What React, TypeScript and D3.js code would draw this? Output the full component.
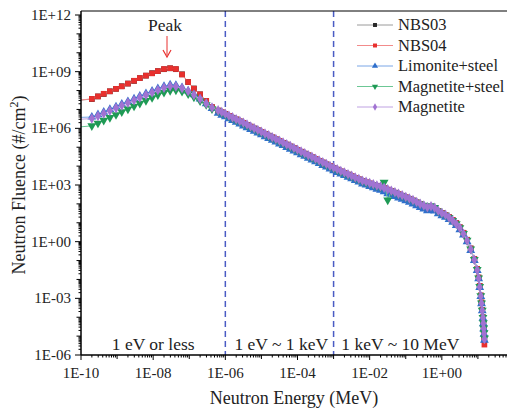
import React from "react";
import * as d3 from "d3";

// ---------- data (log10 values) ----------
const energyExp = [
  -10.5, -9.7, -9.53, -9.37, -9.2, -9.03, -8.87, -8.7, -8.53, -8.37, -8.2, -8.03, -7.87, -7.7, -7.53, -7.37, -7.2, -7.03, -6.87, -6.7, -6.53, -6.37,
  -6.2, -6.1, -6.0, -5.9, -5.8, -5.7, -5.6, -5.5, -5.4, -5.3, -5.2, -5.1, -5.0, -4.9, -4.8, -4.7, -4.6, -4.5, -4.4, -4.3, -4.2, -4.1, -4.0,
  -3.9, -3.8, -3.7, -3.6, -3.5, -3.4, -3.3, -3.2, -3.1, -3.0, -2.9, -2.8, -2.7, -2.6, -2.5, -2.4, -2.3, -2.2, -2.1, -2.0,
  -1.9, -1.8, -1.7, -1.6, -1.5, -1.4, -1.3, -1.2, -1.1, -1.0, -0.9, -0.8, -0.7, -0.6, -0.5, -0.4, -0.3, -0.2, -0.1, 0.0,
  0.1, 0.2, 0.3, 0.4, 0.5, 0.6, 0.7, 0.8, 0.9, 0.98,
  1.02, 1.05, 1.08, 1.1, 1.12, 1.14, 1.15, 1.16, 1.17, 1.18,
];

const nbs04Exp = [
  7.4, 7.56, 7.69, 7.83, 7.96, 8.09, 8.22, 8.37, 8.52, 8.66, 8.79, 8.91, 9.03, 9.14, 9.18, 9.14, 8.85, 8.45, 8.1, 7.8, 7.45, 7.12,
  6.94, 6.85, 6.75, 6.66, 6.56, 6.47, 6.37, 6.28, 6.18, 6.09, 5.99, 5.9, 5.8, 5.71, 5.61, 5.52, 5.42, 5.33, 5.23, 5.14, 5.04, 4.95, 4.85,
  4.76, 4.66, 4.57, 4.47, 4.38, 4.28, 4.19, 4.09, 4.0, 3.9, 3.81, 3.72, 3.64, 3.55, 3.47, 3.38, 3.3, 3.21, 3.14, 3.08,
  3.01, 2.95, 2.89, 2.83, 2.75, 2.67, 2.59, 2.51, 2.43, 2.35, 2.27, 2.18, 2.08, 1.98, 1.89, 1.8, 1.85, 1.78, 1.63, 1.52,
  1.42, 1.3, 1.15, 0.98, 0.76, 0.47, 0.1, -0.36, -0.92, -1.45,
  -1.9, -2.35, -2.85, -3.22, -3.62, -4.02, -4.35, -4.7, -5.05, -5.45,
];

const nbs03Exp = [
  7.4, 7.55, 7.69, 7.82, 7.96, 8.09, 8.23, 8.37, 8.51, 8.66, 8.79, 8.92, 9.03, 9.13, 9.18, 9.13, 8.86, 8.45, 8.11, 7.8, 7.45, 7.12,
  6.94, 6.85, 6.76, 6.66, 6.56, 6.47, 6.37, 6.28, 6.18, 6.09, 5.99, 5.9, 5.8, 5.71, 5.61, 5.52, 5.42, 5.33, 5.23, 5.14, 5.04, 4.95, 4.85,
  4.76, 4.66, 4.57, 4.47, 4.38, 4.28, 4.19, 4.09, 4.0, 3.9, 3.81, 3.72, 3.63, 3.55, 3.47, 3.38, 3.3, 3.21, 3.14, 3.08,
  3.01, 2.95, 2.89, 2.83, 2.75, 2.67, 2.59, 2.51, 2.43, 2.35, 2.27, 2.18, 2.08, 1.98, 1.89, 1.8, 1.85, 1.78, 1.63, 1.52,
  1.42, 1.3, 1.15, 0.98, 0.76, 0.47, 0.1, -0.36, -0.92, -1.45,
  -1.9, -2.35, -2.85, -3.22, -3.62, -4.0, -4.3, -4.6, -4.85, -5.2,
];

const limoniteSteelExp = [
  6.55, 6.6, 6.72, 6.86, 7.0, 7.14, 7.28, 7.42, 7.56, 7.7, 7.84, 7.97, 8.1, 8.22, 8.3, 8.28, 8.16, 7.98, 7.78, 7.56, 7.3, 7.05,
  6.8, 6.7, 6.61, 6.51, 6.42, 6.32, 6.23, 6.13, 6.04, 5.94, 5.85, 5.75, 5.66, 5.56, 5.47, 5.37, 5.28, 5.18, 5.09, 4.99, 4.9, 4.8, 4.71,
  4.61, 4.52, 4.42, 4.33, 4.23, 4.14, 4.04, 3.95, 3.85, 3.76, 3.67, 3.58, 3.5, 3.41, 3.33, 3.24, 3.16, 3.06, 3.0, 2.93,
  2.86, 2.78, 2.72, 2.64, 2.54, 2.48, 2.4, 2.32, 2.25, 2.17, 2.09, 2.0, 1.91, 1.81, 1.73, 1.64, 1.7, 1.62, 1.48, 1.38,
  1.29, 1.17, 1.03, 0.86, 0.64, 0.36, 0.0, -0.46, -1.0, -1.52,
  -1.96, -2.42, -2.9, -3.28, -3.66, -4.05, -4.34, -4.62, -4.9, -5.22,
];

const magnetiteSteelExp = [
  6.0, 6.13, 6.27, 6.42, 6.57, 6.72, 6.87, 7.02, 7.17, 7.32, 7.47, 7.62, 7.77, 7.9, 8.0, 8.02, 7.95, 7.82, 7.65, 7.45, 7.25, 7.03,
  6.91, 6.82, 6.73, 6.63, 6.54, 6.44, 6.35, 6.25, 6.16, 6.06, 5.97, 5.87, 5.78, 5.68, 5.59, 5.49, 5.4, 5.3, 5.21, 5.11, 5.02, 4.92, 4.83,
  4.73, 4.64, 4.54, 4.45, 4.35, 4.26, 4.16, 4.07, 3.97, 3.88, 3.79, 3.7, 3.62, 3.53, 3.45, 3.36, 3.28, 3.19, 3.13, 3.07,
  3.01, 2.94, 2.89, 3.14, 2.2, 2.66, 2.59, 2.5, 2.43, 2.34, 2.26, 2.17, 2.09, 1.99, 1.92, 1.82, 1.9, 1.8, 1.62, 1.5,
  1.4, 1.27, 1.12, 0.95, 0.73, 0.43, 0.07, -0.39, -0.95, -1.48,
  -1.92, -2.38, -2.87, -3.25, -3.64, -4.02, -4.3, -4.58, -4.82, -5.1,
];

const magnetiteExp = [
  6.42, 6.52, 6.65, 6.79, 6.93, 7.07, 7.21, 7.35, 7.49, 7.63, 7.77, 7.9, 8.03, 8.15, 8.23, 8.22, 8.12, 7.96, 7.76, 7.55, 7.32, 7.1,
  6.95, 6.86, 6.77, 6.67, 6.58, 6.48, 6.39, 6.29, 6.2, 6.1, 6.01, 5.91, 5.82, 5.72, 5.63, 5.53, 5.44, 5.34, 5.25, 5.15, 5.06, 4.96, 4.87,
  4.77, 4.68, 4.58, 4.49, 4.39, 4.3, 4.2, 4.11, 4.01, 3.92, 3.83, 3.74, 3.66, 3.57, 3.49, 3.4, 3.32, 3.23, 3.17, 3.1,
  3.04, 2.97, 2.92, 2.85, 2.77, 2.69, 2.62, 2.53, 2.46, 2.37, 2.29, 2.2, 2.1, 2.0, 1.92, 1.82, 1.88, 1.8, 1.64, 1.52,
  1.42, 1.28, 1.12, 0.94, 0.72, 0.42, 0.06, -0.4, -0.96, -1.5,
  -1.94, -2.4, -2.88, -3.26, -3.65, -4.03, -4.32, -4.6, -4.86, -5.15,
];

const seriesNames = ["NBS03", "NBS04", "Limonite+steel", "Magnetite+steel", "Magnetite"];
const seriesData = [nbs03Exp, nbs04Exp, limoniteSteelExp, magnetiteSteelExp, magnetiteExp];
const markerColors = ["#2a2a2a", "#e8302e", "#2f6fcc", "#1f9a55", "#a173d2"];
const lineColors = ["#9a9a9a", "#f28b8b", "#7aa6e6", "#6cc795", "#bfa2e2"];
const markerShapes = ["square", "square", "triangle", "triangleDown", "diamond"];

const xLabelExps = [-10, -8, -6, -4, -2, 0];
const yLabelExps = [12, 9, 6, 3, 0, -3, -6];
const dividerEnergies = [1e-6, 1e-3];
const regionLabels = [
  { text: "1 eV or less", e: 10 ** -8.0 },
  { text: "1 eV ~ 1 keV", e: 10 ** -4.45 },
  { text: "1 keV ~ 10 MeV", e: 10 ** -1.15 },
];

const W = 507;
const H = 410;
const L = 81;
const T = 11;
const B = 355;
const SERIF = "Liberation Serif";

const fmtExp = (e: number) => "1E" + (e < 0 ? "-" : "+") + String(Math.abs(e)).padStart(2, "0");

function symbolPath(shape: string) {
  if (shape === "square") return d3.symbol(d3.symbolSquare, 32)()!;
  if (shape === "triangle") return d3.symbol(d3.symbolTriangle, 34)()!;
  if (shape === "triangleDown") return d3.symbol(d3.symbolTriangle, 34)()!;
  return d3.symbol(d3.symbolDiamond, 32)()!;
}

function T_(props: any) {
  const { children, ...rest } = props;
  return (
    <text fontFamily={SERIF} fill="#222" style={{ fontFamily: `"${SERIF}"` }} {...rest}>
      {children}
    </text>
  );
}

export default function App() {
  const x = d3.scaleLog().domain([1e-10, 1e2]).range([L, 514]);
  const y = d3.scaleLog().domain([1e-6, 1e12]).range([B, 15]);

  const line = d3
    .line<[number, number]>()
    .x((d) => x(d[0]))
    .y((d) => y(d[1]));

  const series = seriesData.map((arr) => arr.map((v, i) => [10 ** energyExp[i], 10 ** v] as [number, number]));

  const xTicks: { v: number; kind: number }[] = [];
  for (let e = -10; e <= 2; e++) {
    xTicks.push({ v: 10 ** e, kind: e % 2 === 0 ? 2 : 1 });
    if (e < 2) for (let m = 2; m <= 9; m++) xTicks.push({ v: m * 10 ** e, kind: 0 });
  }
  const yTicks: { v: number; kind: number }[] = [];
  for (let e = -6; e <= 12; e++) {
    yTicks.push({ v: 10 ** e, kind: e % 3 === 0 ? 2 : 1 });
    if (e < 12) for (let m = 2; m <= 9; m++) yTicks.push({ v: m * 10 ** e, kind: 0 });
  }

  const legendY = [25, 45.5, 66, 86.5, 107];

  return (
    <svg
      width={W}
      height={H}
      fontFamily={SERIF}
      style={{ position: "absolute", left: 0, top: 0, fontFamily: `"${SERIF}"` }}
    >
      <defs>
        <clipPath id="plot">
          <rect x={L} y={T} width={W - L} height={B - T + 2} />
        </clipPath>
      </defs>
      <rect x={0} y={0} width={W} height={H} fill="#fff" />

      {dividerEnergies.map((e, i) => (
        <line key={i} x1={x(e)} x2={x(e)} y1={T} y2={B} stroke="#4a5cc4" strokeWidth={1.5} strokeDasharray="6,4" />
      ))}

      {regionLabels.map((r, i) => (
        <T_ key={i} x={x(r.e)} y={350} textAnchor="middle" fontSize={17.5}>
          {r.text}
        </T_>
      ))}

      <g clipPath="url(#plot)">
        {series.map((s, si) => (
          <g key={si}>
            <path d={line(s)!} fill="none" stroke={lineColors[si]} strokeWidth={1} />
            {s.map((d, i) => (
              <path
                key={i}
                d={symbolPath(markerShapes[si])}
                transform={`translate(${x(d[0])},${y(d[1])})${markerShapes[si] === "triangleDown" ? " rotate(180)" : ""}`}
                fill={markerColors[si]}
              />
            ))}
          </g>
        ))}
      </g>

      <line x1={L} x2={W} y1={T} y2={T} stroke="#000" strokeWidth={1} />
      <line x1={L} x2={L} y1={T} y2={B} stroke="#000" strokeWidth={1.5} />
      <line x1={L} x2={W} y1={B} y2={B} stroke="#000" strokeWidth={1.5} />

      {xTicks.map((t, i) => {
        const px = x(t.v);
        if (px > W) return null;
        const len = t.kind === 2 ? 5 : t.kind === 1 ? 4 : 2.5;
        return <line key={i} x1={px} x2={px} y1={B} y2={B + len} stroke="#000" strokeWidth={1} />;
      })}
      {xLabelExps.map((e) => (
        <T_ key={e} x={x(10 ** e)} y={378} textAnchor="middle" fontSize={15}>
          {fmtExp(e)}
        </T_>
      ))}

      {yTicks.map((t, i) => {
        const py = y(t.v);
        const len = t.kind === 2 ? 6 : t.kind === 1 ? 4.5 : 2.5;
        return <line key={i} x1={L - len} x2={L} y1={py} y2={py} stroke="#000" strokeWidth={1} />;
      })}
      {yLabelExps.map((e) => (
        <T_ key={e} x={71} y={y(10 ** e) + 5} textAnchor="end" fontSize={15}>
          {fmtExp(e)}
        </T_>
      ))}

      <T_ x={294} y={404} textAnchor="middle" fontSize={18}>
        Neutron Energy (MeV)
      </T_>
      <T_ transform="translate(25,185) rotate(-90)" textAnchor="middle" fontSize={18}>
        Neutron Fluence (#/cm
        <tspan fontSize={12} dy={-7}>2</tspan>
        <tspan dy={7}>)</tspan>
      </T_>

      <T_ x={165} y={31} textAnchor="middle" fontSize={17.5}>
        Peak
      </T_>
      <line x1={167} x2={167} y1={36} y2={55} stroke="#e8302e" strokeWidth={1} />
      <path d="M163,50 L167,57 L171,50" fill="none" stroke="#e8302e" strokeWidth={1.2} />

      {seriesNames.map((n, i) => (
        <g key={n}>
          <line x1={357} x2={393} y1={legendY[i]} y2={legendY[i]} stroke={lineColors[i]} strokeWidth={1} />
          <path
            d={symbolPath(markerShapes[i])}
            transform={`translate(375,${legendY[i]})${markerShapes[i] === "triangleDown" ? " rotate(180)" : ""} scale(0.7)`}
            fill={markerColors[i]}
          />
          <T_ x={398} y={legendY[i] + 5} fontSize={16.5}>
            {n}
          </T_>
        </g>
      ))}
    </svg>
  );
}
